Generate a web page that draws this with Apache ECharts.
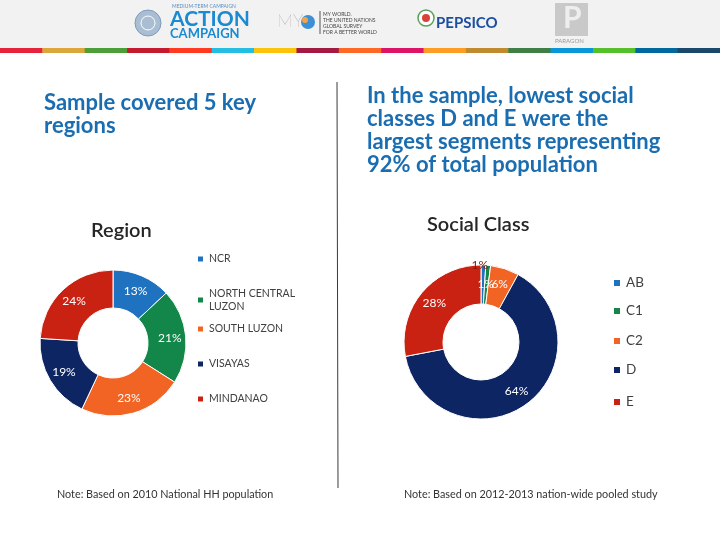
<!DOCTYPE html>
<html>
<head>
<meta charset="utf-8">
<script src="https://cdn.jsdelivr.net/npm/echarts@6/dist/echarts.min.js"></script>
<style>
  html, body { margin: 0; padding: 0; background: #fff; }
  #chart { width: 720px; height: 540px; }
</style>
</head>
<body>
<div id="chart"></div>
<script>
// region donut
var regionNames = ['NCR', 'NORTH CENTRAL LUZON', 'SOUTH LUZON', 'VISAYAS', 'MINDANAO'];
var regionValues = [13, 21, 23, 19, 24];
var regionColors = ['#1f72bf', '#13864a', '#f26424', '#0e2563', '#c92212'];

// social class donut
var classNames = ['AB', 'C1', 'C2', 'D', 'E'];
var classValues = [1, 1, 6, 64, 28];
var classColors = ['#1f72bf', '#13864a', '#f26424', '#0e2563', '#c92212'];

// SDG stripe in the header
var stripeColors = ['#e5243b', '#dda63a', '#4c9f38', '#c5192d', '#ff3a21', '#26bde2', '#fcc30b', '#a21942',
  '#fd6925', '#dd1367', '#fd9d24', '#bf8b2e', '#3f7e44', '#0a97d9', '#56c02b', '#00689d', '#19486a'];

var FONT = 'Lato';
var BLUE = '#1a6db0';

var chart = echarts.init(document.getElementById('chart'));

// header pieces
var graphics = [
  { type: 'rect', shape: { x: 0, y: 0, width: 720, height: 48 }, style: { fill: '#f2f2f2' } }
];
var segW = 720 / stripeColors.length;
stripeColors.forEach(function (c, i) {
  graphics.push({ type: 'rect', shape: { x: i * segW, y: 48, width: segW + 0.5, height: 5 }, style: { fill: c } });
});
graphics.push(
  // UN action campaign
  { type: 'circle', shape: { cx: 148, cy: 23, r: 13 }, style: { fill: '#a9bdd3', stroke: '#7f9bbb', lineWidth: 1 } },
  { type: 'circle', shape: { cx: 148, cy: 23, r: 7 }, style: { fill: 'none', stroke: '#ffffff', lineWidth: 1 } },
  { type: 'text', left: 172, top: 4, style: { text: 'MEDIUM-TERM CAMPAIGN', fontSize: 5, fill: '#5a8fbf', fontFamily: FONT } },
  { type: 'text', left: 170, top: 9, style: { text: 'ACTION', fontSize: 21, fontWeight: 'bold', fill: '#1b8ad0', fontFamily: FONT } },
  { type: 'text', left: 170, top: 27, style: { text: 'CAMPAIGN', fontSize: 13, fontWeight: 'bold', fill: '#1b8ad0', fontFamily: FONT } },
  // MY World
  { type: 'text', left: 277, top: 12, style: { text: 'MY', fontSize: 18, fill: '#8a8a8a', fontFamily: FONT, fontWeight: 'lighter' } },
  { type: 'circle', shape: { cx: 308, cy: 22, r: 7 }, style: { fill: '#3d8fd6' } },
  { type: 'circle', shape: { cx: 305, cy: 20, r: 3 }, style: { fill: '#f2a541' } },
  { type: 'line', shape: { x1: 320, y1: 11, x2: 320, y2: 34 }, style: { stroke: '#555', lineWidth: 1 } },
  { type: 'text', left: 323, top: 11, style: { text: 'MY WORLD.\nTHE UNITED NATIONS\nGLOBAL SURVEY\nFOR A BETTER WORLD', fontSize: 5, lineHeight: 6, fill: '#444', fontFamily: FONT } },
  // PepsiCo
  { type: 'circle', shape: { cx: 426, cy: 18, r: 8 }, style: { fill: '#ffffff', stroke: '#5aa05a', lineWidth: 1.5 } },
  { type: 'circle', shape: { cx: 426, cy: 18, r: 4 }, style: { fill: '#d9423a' } },
  { type: 'text', left: 436, top: 16, style: { text: 'PEPSICO', fontSize: 15, fontWeight: 'bold', fill: '#1c4fa0', fontFamily: FONT } },
  // Paragon
  { type: 'rect', shape: { x: 555, y: 3, width: 33, height: 33 }, style: { fill: '#c9c9c9' } },
  { type: 'text', left: 563, top: 3, style: { text: 'P', fontSize: 30, fontWeight: 'bold', fill: '#eeeeee', fontFamily: FONT } },
  { type: 'text', left: 555, top: 38, style: { text: 'PARAGON', fontSize: 6, fill: '#999', fontFamily: FONT } },
  // divider
  { type: 'line', shape: { x1: 337, y1: 82, x2: 338, y2: 488 }, style: { stroke: '#3a3a3a', lineWidth: 1 } }
);

// one legend per entry so each line sits where the slide put it
var regionLegendTops = [259, 300, 329, 364, 399];
var classLegendTops = [283, 311, 341, 370, 402];
var legends = [];
regionNames.forEach(function (n, i) {
  legends.push({
    data: [n], orient: 'vertical', left: 196, top: regionLegendTops[i] - (i === 1 ? 13 : 6.5),
    padding: 0, itemWidth: 7, itemHeight: 7, itemGap: 0, icon: 'rect', selectedMode: false,
    formatter: function (name) { return name === 'NORTH CENTRAL LUZON' ? 'NORTH CENTRAL\nLUZON' : name; },
    textStyle: { fontSize: 10.5, lineHeight: 13, color: '#404040', fontFamily: FONT, padding: [0, 0, 0, 0] }
  });
});
classNames.forEach(function (n, i) {
  legends.push({
    data: [n], orient: 'vertical', left: 612, top: classLegendTops[i] - 8,
    padding: 0, itemWidth: 8, itemHeight: 8, itemGap: 0, icon: 'rect', selectedMode: false,
    textStyle: { fontSize: 13.5, lineHeight: 16, color: '#404040', fontFamily: FONT }
  });
});

var labelStyle = { show: true, position: 'inside', formatter: '{c}%', color: '#ffffff', fontSize: 12, fontFamily: FONT };

var option = {
  backgroundColor: '#ffffff',
  animation: false,
  title: [
    { text: 'Sample covered 5 key\nregions', left: 44, top: 91, padding: 0,
      textStyle: { fontSize: 22, lineHeight: 23, fontWeight: 'bold', color: BLUE, fontFamily: FONT } },
    { text: 'In the sample, lowest social\nclasses D and E were the\nlargest segments representing\n92% of total population', left: 367, top: 84, padding: 0,
      textStyle: { fontSize: 22, lineHeight: 23, fontWeight: 'bold', color: BLUE, fontFamily: FONT } },
    { text: 'Region', left: 91, top: 221, padding: 0,
      textStyle: { fontSize: 20, fontWeight: 600, color: '#262626', fontFamily: FONT } },
    { text: 'Social Class', left: 427, top: 215, padding: 0,
      textStyle: { fontSize: 20, fontWeight: 600, color: '#262626', fontFamily: FONT } },
    { text: 'Note: Based on 2010 National HH population', left: 57, top: 489, padding: 0,
      textStyle: { fontSize: 10.8, fontWeight: 'normal', color: '#333', fontFamily: FONT } },
    { text: 'Note: Based on 2012-2013 nation-wide pooled study', left: 404, top: 489, padding: 0,
      textStyle: { fontSize: 10.8, fontWeight: 'normal', color: '#333', fontFamily: FONT } }
  ],
  legend: legends,
  graphic: graphics,
  series: [
    {
      type: 'pie', name: 'Region', center: [113, 343], radius: [35, 73], startAngle: 90, clockwise: true,
      avoidLabelOverlap: false, label: labelStyle, labelLine: { show: false },
      labelLayout: { hideOverlap: false },
      itemStyle: { borderColor: '#ffffff', borderWidth: 1 },
      data: regionNames.map(function (n, i) {
        return { name: n, value: regionValues[i], itemStyle: { color: regionColors[i] } };
      })
    },
    {
      type: 'pie', name: 'Social Class', center: [481, 342], radius: [38, 77], startAngle: 90, clockwise: true,
      avoidLabelOverlap: false, label: labelStyle, labelLine: { show: false },
      labelLayout: { hideOverlap: false },
      minShowLabelAngle: 0,
      itemStyle: { borderColor: '#ffffff', borderWidth: 1 },
      data: classNames.map(function (n, i) {
        var d = { name: n, value: classValues[i], itemStyle: { color: classColors[i] } };
        if (n === 'AB') d.label = { show: true, offset: [-3, -16], color: '#7a1a12' };
        if (n === 'C1') d.label = { show: true, offset: [-1, 2], color: '#ffffff' };
        return d;
      })
    }
  ]
};

chart.setOption(option);
</script>
</body>
</html>
